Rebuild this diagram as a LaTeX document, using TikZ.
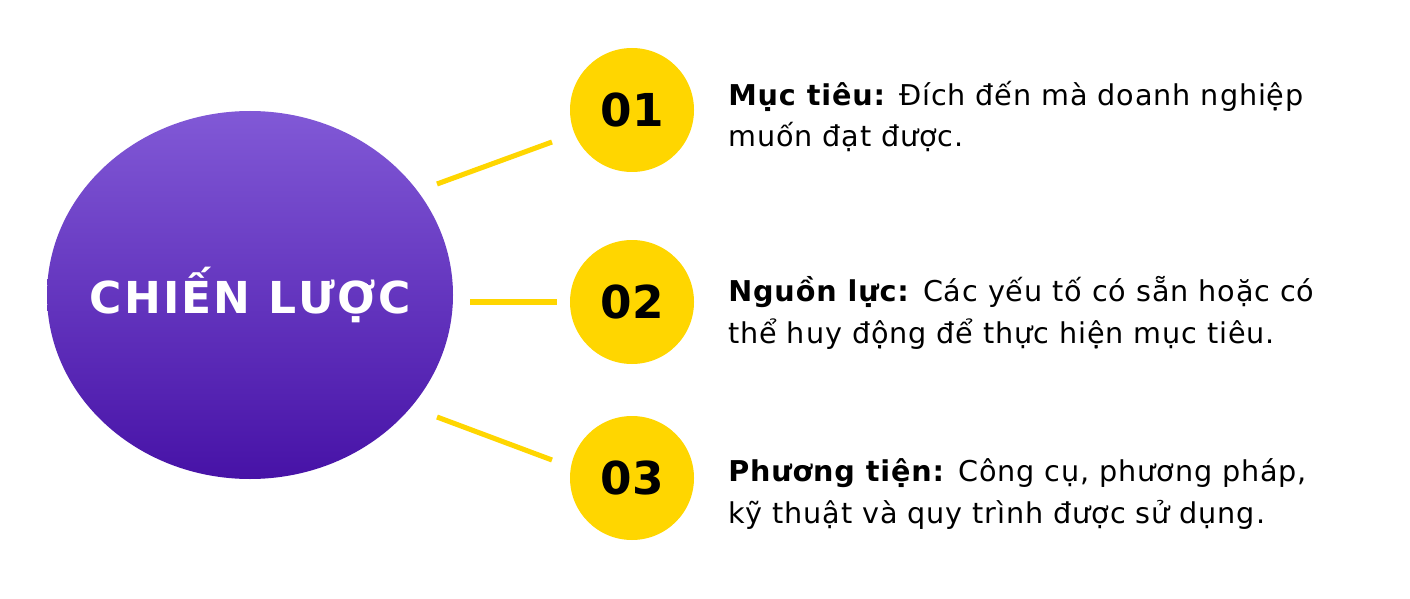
\documentclass[tikz,border=0pt]{standalone}
\usepackage{fontspec}
\setmainfont{DejaVu Sans}
\newfontfamily\widefont[LetterSpace=3]{DejaVu Sans}
\newfontfamily\headfont[LetterSpace=5]{DejaVu Sans}
\definecolor{sunny}{HTML}{FFD600}
\definecolor{violettop}{HTML}{825AD7}
\definecolor{violetbot}{HTML}{4611A6}
\tikzset{
  strategy/.style = {top color=violettop,bottom color=violetbot},
  title/.style = {text=white,font=\headfont\fontsize{33}{36}\selectfont\bfseries},
  badge/.style = {circle,fill=sunny,minimum size=93pt,inner sep=0pt,
    font=\fontsize{34}{38}\selectfont\bfseries},
  item/.style = {anchor=base west,align=left,inner sep=0pt,
    font=\widefont\fontsize{21.5}{31.5}\selectfont},
  link/.style = {draw=sunny,line width=3.8pt}
}

\begin{document}
\begin{tikzpicture}[x=0.75pt,y=-0.75pt]
  \useasboundingbox (0,0) rectangle (1410,599);
  % centre
  \begin{scope}
    \clip (250,295) ellipse [x radius=203,y radius=184];
    \shade[strategy] (40,105) rectangle (460,485);
  \end{scope}
  \node[title] (goal) at (250,295) {CHIẾN LƯỢC};
  % badges
  \node[badge] (n1) at (632,110) {01};
  \node[badge] (n2) at (632,302) {02};
  \node[badge] (n3) at (632,478) {03};
  % links
  \coordinate (a1) at (437,184); \coordinate (b1) at (552,142);
  \coordinate (a2) at (470,302); \coordinate (b2) at (557,302);
  \coordinate (a3) at (437,417); \coordinate (b3) at (552,460);
  \draw[link] (a1) -- (b1);
  \draw[link] (a2) -- (b2);
  \draw[link] (a3) -- (b3);
  % texts (anchored on the last line)
  \node[item] (t1) at (728,147) {\textbf{Mục tiêu:} Đích đến mà doanh nghiệp\\muốn đạt được.};
  \node[item] (t2) at (728,343) {\textbf{Nguồn lực:} Các yếu tố có sẵn hoặc có\\thể huy động để thực hiện mục tiêu.};
  \node[item] (t3) at (728,523) {\textbf{Phương tiện:} Công cụ, phương pháp,\\kỹ thuật và quy trình được sử dụng.};
\end{tikzpicture}
\end{document}
